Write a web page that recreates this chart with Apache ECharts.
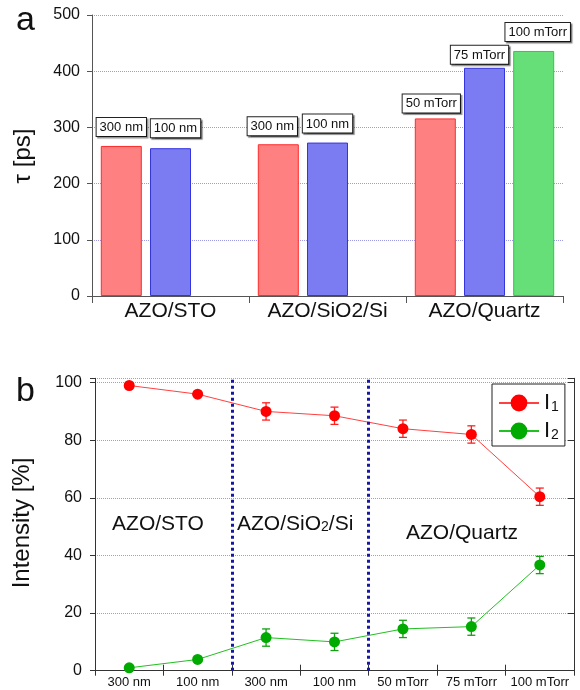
<!DOCTYPE html>
<html><head><meta charset="utf-8">
<script src="https://cdn.jsdelivr.net/npm/echarts@6/dist/echarts.min.js"></script>
<style>html,body{margin:0;padding:0;background:#fff}#c{width:580px;height:690px}</style>
</head><body><div id="c"></div>
<script>
// ---- Panel a data ----
const substrates = ['AZO/STO', 'AZO/SiO2/Si', 'AZO/Quartz'];
const tauSeries1 = [267, 270, 316];
const tauSeries2 = [263, 273, 406];
const tauSeries3 = [null, null, 436];
const tauLabels1 = ['300 nm', '300 nm', '50 mTorr'];
const tauLabels2 = ['100 nm', '100 nm', '75 mTorr'];
const tauLabels3 = ['', '', '100 mTorr'];
const tauTicks = [0, 100, 200, 300, 400, 500];

// ---- Panel b data ----
const samples = ['300 nm', '100 nm', '300 nm', '100 nm', '50 mTorr', '75 mTorr', '100 mTorr'];
const I1 = [99, 96, 90, 88.5, 84, 82, 60.4];
const I1err = [0, 0, 3, 3, 3, 3, 3];
const I2 = [1.0, 3.9, 11.5, 10.0, 14.5, 15.3, 36.7];
const I2err = [0, 0, 3, 3, 3, 3, 3];
const dividers = [2, 4];
const intensityTicks = [0, 20, 40, 60, 80, 100];

// label nudges (style only)
const nudge1 = [[0, -2], [-6, -1], [-4, 2]];
const nudge2 = [[5, -3], [0, -2], [-5, 4]];
const nudge3 = [[0, 0], [0, 0], [4, -2]];

const FONT = 'Liberation Sans, Arial, sans-serif';
const chart = echarts.init(document.getElementById('c'), null, {renderer: 'canvas'});

function barSeries(name, vals, labels, nudges, fill, stroke) {
  return {
    type: 'bar', name, xAxisIndex: 0, yAxisIndex: 0,
    barWidth: 41, barGap: '20%',
    itemStyle: {color: fill, borderColor: stroke, borderWidth: 1},
    data: vals.map((v, i) => ({
      value: v,
      label: {offset: nudges[i], formatter: labels[i]}
    })),
    label: {
      show: true, position: 'top', distance: 8,
      fontFamily: FONT, fontSize: 13, color: '#111',
      backgroundColor: '#fff', borderColor: '#222', borderWidth: 1,
      padding: [3, 3, 2, 3],
      shadowColor: 'rgba(0,0,0,0.45)', shadowOffsetX: 1.5, shadowOffsetY: 1.5, shadowBlur: 1
    }
  };
}

function errSeries(vals, errs, color) {
  return {
    type: 'custom', xAxisIndex: 1, yAxisIndex: 1, z: 3, silent: true,
    data: vals.map((v, i) => [i, v - errs[i], v + errs[i]]).filter((d, i) => errs[i] > 0),
    renderItem(params, api) {
      const lo = api.coord([api.value(0), api.value(1)]);
      const hi = api.coord([api.value(0), api.value(2)]);
      const w = 4;
      const st = {stroke: color, lineWidth: 1.3};
      return {type: 'group', children: [
        {type: 'line', shape: {x1: lo[0], y1: lo[1], x2: hi[0], y2: hi[1]}, style: st},
        {type: 'line', shape: {x1: lo[0] - w, y1: lo[1], x2: lo[0] + w, y2: lo[1]}, style: st},
        {type: 'line', shape: {x1: hi[0] - w, y1: hi[1], x2: hi[0] + w, y2: hi[1]}, style: st}
      ]};
    }
  };
}

const gridLine = {show: true, lineStyle: {color: '#9c9ce6', width: 1, type: [1, 1]}};

const option = {
  animation: false,
  backgroundColor: '#fff',
  textStyle: {fontFamily: FONT},
  grid: [
    {left: 92, top: 15, width: 471, height: 281},
    {left: 95, top: 378.3, width: 479, height: 292.4}
  ],
  xAxis: [
    {
      gridIndex: 0, type: 'category', data: substrates,
      axisLine: {lineStyle: {color: '#555', width: 1}},
      axisTick: {show: true, length: 7, lineStyle: {color: '#555'}},
      axisLabel: {fontFamily: FONT, fontSize: 21, color: '#111', margin: 5, interval: 0}
    },
    {
      gridIndex: 1, type: 'category', data: samples,
      axisLine: {lineStyle: {color: '#333', width: 1}},
      axisTick: {show: true, length: 5, interval: 0, lineStyle: {color: '#333'}},
      axisLabel: {fontFamily: FONT, fontSize: 13, color: '#111', margin: 5, interval: 0}
    },
    {
      gridIndex: 1, type: 'value', position: 'top', min: 0, max: 7, interval: 1,
      axisLine: {show: true, lineStyle: {color: '#333', width: 1}},
      axisTick: {show: true, length: 6, lineStyle: {color: '#333'}},
      axisLabel: {show: false}, splitLine: {show: false}
    }
  ],
  yAxis: [
    {
      gridIndex: 0, type: 'value', min: tauTicks[0], max: tauTicks[tauTicks.length - 1], interval: 100,
      axisLine: {show: true, lineStyle: {color: '#555', width: 1}},
      axisTick: {show: true, length: 5, lineStyle: {color: '#555'}},
      axisLabel: {fontFamily: FONT, fontSize: 16, color: '#111', margin: 12},
      splitLine: gridLine
    },
    {
      gridIndex: 1, type: 'value', min: intensityTicks[0], max: 101.5, interval: 20,
      axisLine: {show: true, lineStyle: {color: '#333', width: 1}},
      axisTick: {show: true, length: 5, lineStyle: {color: '#333'}},
      axisLabel: {fontFamily: FONT, fontSize: 16, color: '#111', margin: 13,
        formatter: v => (intensityTicks.indexOf(v) >= 0 ? String(v) : '')},
      splitLine: gridLine
    },
    {
      gridIndex: 1, type: 'value', position: 'right', min: intensityTicks[0], max: 101.5, interval: 20,
      axisLine: {show: true, lineStyle: {color: '#333', width: 1}},
      axisTick: {show: true, inside: true, length: 6, lineStyle: {color: '#333'}},
      axisLabel: {show: false}, splitLine: {show: false}
    }
  ],
  legend: {
    data: ['I1', 'I2'],
    left: 492, top: 384, orient: 'vertical',
    itemWidth: 40, itemHeight: 21, itemGap: 2,
    padding: [4, 6, 4, 6],
    borderColor: '#222', borderWidth: 1, backgroundColor: '#fff',
    formatter: n => (n === 'I1' ? '{i|I}{s|1}' : '{i|I}{s|2}'),
    textStyle: {
      rich: {
        i: {fontFamily: FONT, fontSize: 22, lineHeight: 22, color: '#111', verticalAlign: 'top'},
        s: {fontFamily: FONT, fontSize: 14, lineHeight: 14, color: '#111', padding: [12, 0, 0, 1], verticalAlign: 'bottom'}
      }
    }
  },
  series: [
    barSeries('s1', tauSeries1, tauLabels1, nudge1, '#ff8080', '#ff2a2a'),
    barSeries('s2', tauSeries2, tauLabels2, nudge2, '#7b7bf2', '#3535dd'),
    barSeries('s3', tauSeries3, tauLabels3, nudge3, '#66df78', '#2ccc3c'),
    {
      type: 'scatter', xAxisIndex: 2, yAxisIndex: 1, data: [], silent: true,
      markLine: {
        symbol: 'none', silent: true, label: {show: false},
        lineStyle: {color: '#1616a8', width: 3, type: [3, 3]},
        data: dividers.map(d => ({xAxis: d}))
      }
    },
    errSeries(I1, I1err, '#ff2020'),
    errSeries(I2, I2err, '#10a010'),
    {
      name: 'I1', type: 'line', xAxisIndex: 1, yAxisIndex: 1, data: I1, z: 4,
      symbol: 'circle', symbolSize: 11,
      lineStyle: {color: '#ff4040', width: 1},
      itemStyle: {color: '#ff0000'}
    },
    {
      name: 'I2', type: 'line', xAxisIndex: 1, yAxisIndex: 1, data: I2, z: 4,
      symbol: 'circle', symbolSize: 11,
      lineStyle: {color: '#22c022', width: 1},
      itemStyle: {color: '#00aa00'}
    }
  ],
  graphic: [
    {type: 'text', x: 16, y: 4, style: {text: 'a', font: '34px ' + FONT, fill: '#111'}},
    {type: 'text', x: 16, y: 375, style: {text: 'b', font: '34px ' + FONT, fill: '#111'}},
    {type: 'text', x: 23, y: 156, rotation: Math.PI / 2,
      style: {text: 'τ [ps]', font: '24px ' + FONT, fill: '#111', textAlign: 'center', textVerticalAlign: 'middle'}},
    {type: 'text', x: 22, y: 523, rotation: Math.PI / 2,
      style: {text: 'Intensity [%]', font: '24px ' + FONT, fill: '#111', textAlign: 'center', textVerticalAlign: 'middle'}},
    {type: 'text', x: 158, y: 524,
      style: {text: 'AZO/STO', font: '21px ' + FONT, fill: '#111', textAlign: 'center', textVerticalAlign: 'middle'}},
    {type: 'text', x: 237, y: 524,
      style: {text: '{n|AZO/SiO}{s|2}{n|/Si}', textAlign: 'left', textVerticalAlign: 'middle',
        rich: {
          n: {fontFamily: FONT, fontSize: 21, lineHeight: 21, fill: '#111', verticalAlign: 'top'},
          s: {fontFamily: FONT, fontSize: 14, lineHeight: 14, fill: '#111', padding: [12, 0, 0, 0], verticalAlign: 'bottom'}
        }}},
    {type: 'text', x: 462, y: 533,
      style: {text: 'AZO/Quartz', font: '21px ' + FONT, fill: '#111', textAlign: 'center', textVerticalAlign: 'middle'}}
  ]
};
chart.setOption(option);
</script>
</body></html>
